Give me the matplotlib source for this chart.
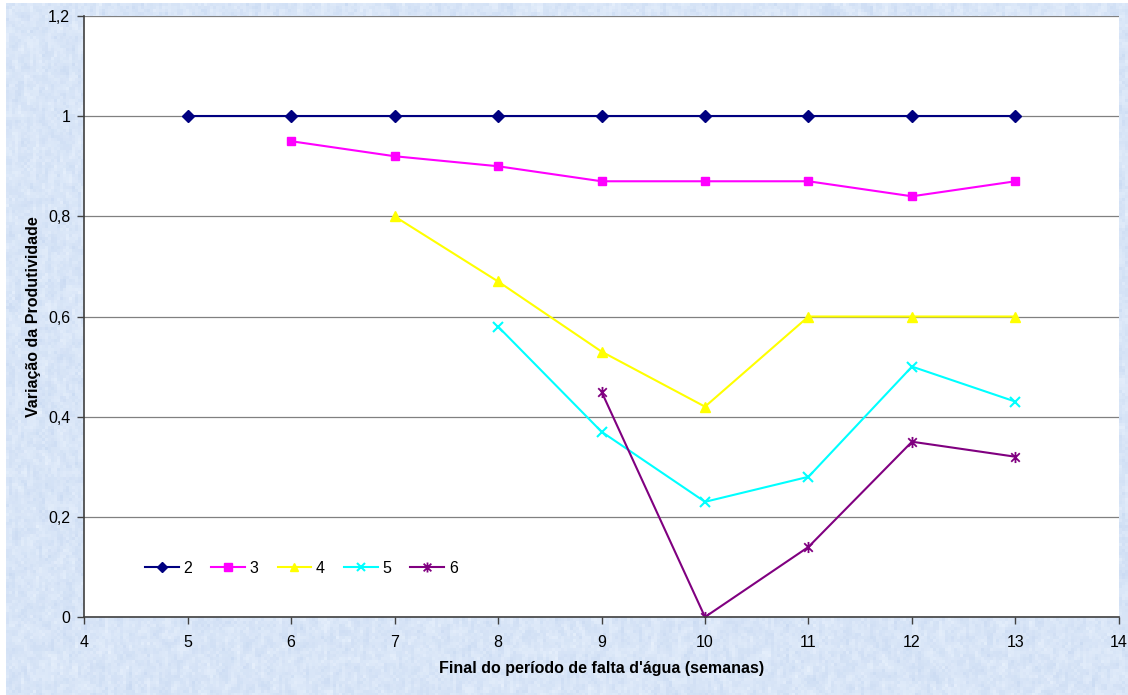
import numpy as np
import matplotlib.pyplot as plt
from matplotlib.path import Path

plt.rcParams['font.family'] = ['Liberation Sans', 'DejaVu Sans']

# semana final do período de falta d'água, por série (duração em semanas)
weeks_2 = [5, 6, 7, 8, 9, 10, 11, 12, 13]
prod_2 = [1, 1, 1, 1, 1, 1, 1, 1, 1]

weeks_3 = [6, 7, 8, 9, 10, 11, 12, 13]
prod_3 = [0.95, 0.92, 0.90, 0.87, 0.87, 0.87, 0.84, 0.87]

weeks_4 = [7, 8, 9, 10, 11, 12, 13]
prod_4 = [0.80, 0.67, 0.53, 0.42, 0.60, 0.60, 0.60]

weeks_5 = [8, 9, 10, 11, 12, 13]
prod_5 = [0.58, 0.37, 0.23, 0.28, 0.50, 0.43]

weeks_6 = [9, 10, 11, 12, 13]
prod_6 = [0.45, 0.00, 0.14, 0.35, 0.32]

series_names = ['2', '3', '4', '5', '6']
x_ticks = list(range(4, 15))
y_ticks = [0, 0.2, 0.4, 0.6, 0.8, 1.0, 1.2]

# asterisco estilo Excel: um "x" com traço vertical
asterisk = Path(
    [(-1, -1), (1, 1), (-1, 1), (1, -1), (0, -1.3), (0, 1.3)],
    [Path.MOVETO, Path.LINETO, Path.MOVETO, Path.LINETO, Path.MOVETO, Path.LINETO],
)

fig = plt.figure(figsize=(11.28, 6.95), dpi=100)

# fundo azul claro com textura de papel
h, w = 695, 1128
rng = np.random.default_rng(3)
noise = rng.random((h // 3 + 2, w // 3 + 2))
noise = (noise + np.roll(noise, 1, 0) + np.roll(noise, 1, 1) + np.roll(noise, -1, 0)) / 4
noise = np.kron(noise, np.ones((3, 3)))[:h, :w]
base = np.array([0.85, 0.90, 0.97])
tex = base[None, None, :] + (noise[..., None] - 0.5) * np.array([0.12, 0.09, 0.04])
tex = np.clip(tex, 0, 1)
tex[:3, :, :] = 1.0
tex[:, :6, :] = 1.0
fig.figimage(tex, xo=0, yo=0, origin='upper', zorder=-1)

ax = fig.add_axes([0.0745, 0.1122, 0.9175, 0.8648])
ax.set_zorder(2)
ax.set_facecolor('white')

ax.plot(weeks_2, prod_2, color='#000080', marker='D', markersize=6, lw=1.5, label=series_names[0])
ax.plot(weeks_3, prod_3, color='#FF00FF', marker='s', markersize=6, lw=1.5, label=series_names[1])
ax.plot(weeks_4, prod_4, color='#FFFF00', marker='^', markersize=7, lw=1.5, label=series_names[2])
ax.plot(weeks_5, prod_5, color='#00FFFF', marker='x', markersize=7, mew=1.5, lw=1.5, label=series_names[3])
ax.plot(weeks_6, prod_6, color='#800080', marker=asterisk, markersize=8, mew=1.3, lw=1.5, label=series_names[4])

ax.set_xlim(4, 14)
ax.set_ylim(0, 1.2)
ax.set_xticks(x_ticks)
ax.set_yticks(y_ticks)
ax.set_yticklabels([f'{v:g}'.replace('.', ',') for v in y_ticks])

ax.yaxis.grid(True, color='#808080', lw=0.9)
ax.set_axisbelow(True)

for side in ['top', 'right']:
    ax.spines[side].set_visible(False)
for side in ['left', 'bottom']:
    ax.spines[side].set_color('#404040')
    ax.spines[side].set_linewidth(1.2)

ax.tick_params(direction='out', length=5, width=1, color='#404040', labelsize=11.5)
ax.tick_params(axis='x', pad=8)
ax.tick_params(axis='y', pad=5)

ax.set_xlabel("Final do período de falta d'água (semanas)", fontsize=11.5, fontweight='bold', labelpad=8)
ax.set_ylabel('Variação da Produtividade', fontsize=11.5, fontweight='bold', labelpad=5)

ax.legend(loc='lower left', bbox_to_anchor=(0.045, 0.045), ncol=5, frameon=False,
          fontsize=11.5, handlelength=2.1, columnspacing=1.2, handletextpad=0.3,
          markerscale=0.9)

fig.savefig('out.png', dpi=100)
